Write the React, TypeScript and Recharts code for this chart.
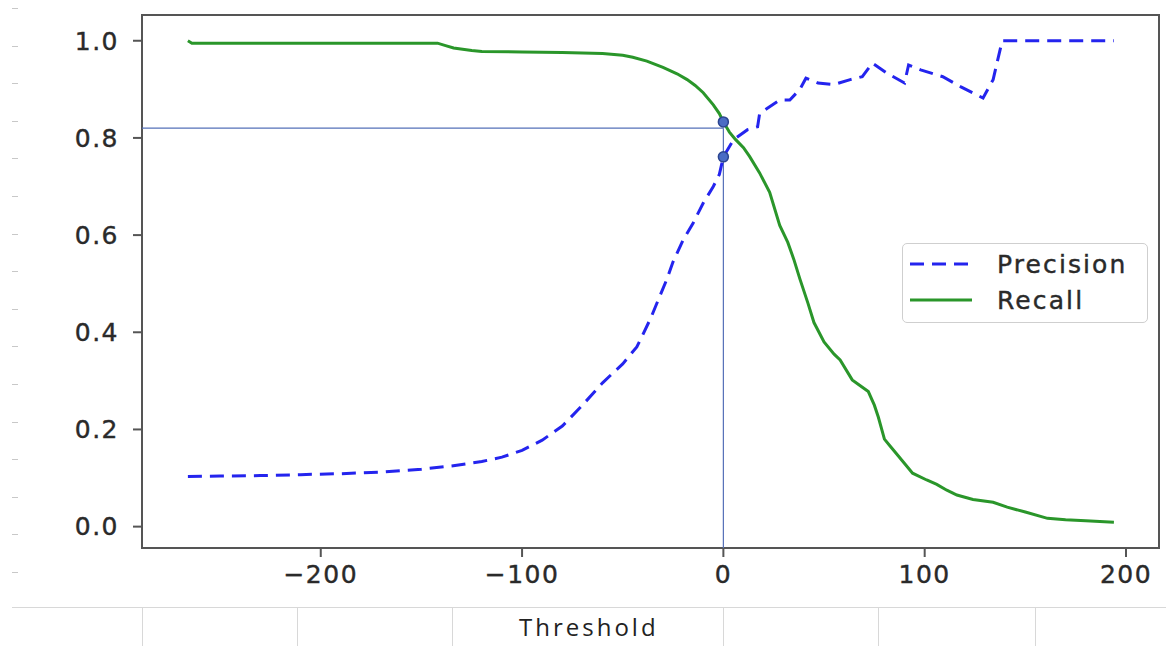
import { Line, LineChart, ReferenceArea, ReferenceDot, ReferenceLine, XAxis, YAxis } from 'recharts';

const precisionThresholds = [
  -266, -250, -230, -210, -190, -170, -150, -135, -120, -110, -100, -90, -80, -70, -60, -50, -43, -40, -36, -32,
  -28, -25, -20, -15, -10, -5, -2, 0, 5, 12, 17, 18, 25, 28, 33, 38, 41, 47, 55, 63, 69, 74, 81, 90, 92, 98, 109,
  118, 129, 134, 138.5, 150, 170, 194
];
const precisionValues = [
  0.103, 0.104, 0.105, 0.107, 0.109, 0.112, 0.118, 0.125, 0.134, 0.143, 0.157, 0.178, 0.207, 0.25, 0.296, 0.335,
  0.37, 0.395, 0.43, 0.47, 0.51, 0.545, 0.59, 0.625, 0.666, 0.7, 0.725, 0.761, 0.796, 0.817, 0.823, 0.85, 0.87,
  0.878, 0.878, 0.9, 0.923, 0.913, 0.91, 0.92, 0.926, 0.954, 0.934, 0.913, 0.95, 0.94, 0.926, 0.905, 0.882, 0.92,
  1.0, 1.0, 1.0, 1.0
];

const recallThresholds = [
  -266, -264, -200, -142, -138, -134, -125, -120, -100, -80, -60, -50, -45, -38, -30, -23, -18, -14, -10, -5, -2,
  0, 3, 6, 10, 13, 18, 23, 28, 32, 35, 38, 42, 45, 50, 55, 58, 64, 68, 72, 75, 77, 80, 83, 86, 90, 94, 101, 106,
  111, 116, 124, 134, 141, 150, 161, 170, 180, 194
];
const recallValues = [
  1.0, 0.995, 0.995, 0.995, 0.99, 0.985, 0.98, 0.978, 0.977, 0.976, 0.974, 0.97, 0.966, 0.958, 0.945, 0.932, 0.92,
  0.908, 0.893, 0.868, 0.85, 0.833, 0.812, 0.797, 0.78, 0.762, 0.728, 0.688, 0.62, 0.585, 0.55, 0.51, 0.46, 0.42,
  0.38, 0.355, 0.343, 0.302, 0.29, 0.278, 0.25, 0.225, 0.18, 0.165, 0.15, 0.13, 0.11, 0.096, 0.087, 0.075, 0.065,
  0.056, 0.05, 0.04, 0.03, 0.017, 0.014, 0.012, 0.009
];

const xTicks = [-200, -100, 0, 100, 200];
const yTicks = [0, 0.2, 0.4, 0.6, 0.8, 1.0];
const seriesNames = ['Precision', 'Recall'];

// operating point marked on the chart
const chosenThreshold = 0;
const chosenLevel = 0.82;
const markerValues = [0.833, 0.761];

const X_DOMAIN: [number, number] = [-288.8, 216.4];
const Y_DOMAIN: [number, number] = [-0.044, 1.053];

const BLUE = '#2424ee';
const GREEN = '#2a962a';
const GUIDE = '#5570b8';
const INK = '#2a2a2a';

// spreadsheet-ish leftovers around the screenshot
const sheetColumns = [142, 297, 452, 723, 878, 1035];
const sideMarks = Array.from({ length: 16 }, (_, i) => 8 + i * 37.6);

const formatX = (v: number) => (v < 0 ? `\u2212${Math.abs(v)}` : `${v}`);

const tickText = { fill: INK, fontSize: 25, stroke: INK, strokeWidth: 0.4 };

function LegendBox() {
  return (
    <div
      style={{
        position: 'absolute',
        left: 902,
        top: 243,
        width: 246,
        height: 80,
        border: '1px solid #cfcfcf',
        borderRadius: 5,
        background: '#fff',
        boxSizing: 'border-box',
        fontFamily: 'DejaVu Sans',
        fontSize: 25,
        letterSpacing: 2.1,
        color: INK,
        WebkitTextStroke: '0.4px #2a2a2a',
        paddingTop: 2
      }}
    >
      {seriesNames.map((name, i) => (
        <div key={name} style={{ display: 'flex', alignItems: 'center', height: 36 }}>
          <svg width={87} height={10} style={{ marginLeft: 7, flexShrink: 0 }}>
            <line
              x1={0}
              y1={5}
              x2={62}
              y2={5}
              stroke={i === 0 ? BLUE : GREEN}
              strokeWidth={3}
              strokeDasharray={i === 0 ? '14 8' : undefined}
            />
          </svg>
          <span>{name}</span>
        </div>
      ))}
    </div>
  );
}

export default function App() {
  const precisionRows = precisionThresholds.map((t, i) => ({ threshold: t, value: precisionValues[i] }));
  const recallRows = recallThresholds.map((t, i) => ({ threshold: t, value: recallValues[i] }));

  return (
    <div
      style={{
        position: 'absolute',
        left: 0,
        top: 0,
        width: 1166,
        height: 646,
        background: '#fff',
        overflow: 'hidden',
        fontFamily: 'DejaVu Sans',
        letterSpacing: 1.5
      }}
    >
      {sideMarks.map((y) => (
        <div key={y} style={{ position: 'absolute', left: 12, top: y, width: 6, height: 1, background: '#c8c8c8' }} />
      ))}

      <LineChart width={1166} height={600} margin={{ top: 15, right: 7, bottom: 0, left: 0 }}>
        <XAxis
          type="number"
          dataKey="threshold"
          domain={X_DOMAIN}
          ticks={xTicks}
          allowDataOverflow
          tickFormatter={formatX}
          height={52}
          tickSize={9}
          tickMargin={8}
          axisLine={false}
          tickLine={{ stroke: '#555', strokeWidth: 2 }}
          tick={tickText}
        />
        <YAxis
          type="number"
          domain={Y_DOMAIN}
          ticks={yTicks}
          allowDataOverflow
          tickFormatter={(v: number) => v.toFixed(1)}
          width={142}
          tickSize={9}
          tickMargin={14}
          axisLine={false}
          tickLine={{ stroke: '#555', strokeWidth: 2 }}
          tick={tickText}
        />
        <ReferenceArea
          x1={X_DOMAIN[0]}
          x2={X_DOMAIN[1]}
          y1={Y_DOMAIN[0]}
          y2={Y_DOMAIN[1]}
          fill="none"
          stroke="#555"
          strokeWidth={2}
        />
        <ReferenceLine
          segment={[
            { x: X_DOMAIN[0], y: chosenLevel },
            { x: chosenThreshold, y: chosenLevel }
          ]}
          stroke={GUIDE}
          strokeWidth={1.2}
        />
        <ReferenceLine
          segment={[
            { x: chosenThreshold, y: Y_DOMAIN[0] },
            { x: chosenThreshold, y: chosenLevel }
          ]}
          stroke={GUIDE}
          strokeWidth={1.2}
        />
        <Line
          data={precisionRows}
          dataKey="value"
          name={seriesNames[0]}
          type="linear"
          stroke={BLUE}
          strokeWidth={3}
          strokeDasharray="14 8"
          dot={false}
          isAnimationActive={false}
        />
        <Line
          data={recallRows}
          dataKey="value"
          name={seriesNames[1]}
          type="linear"
          stroke={GREEN}
          strokeWidth={3}
          dot={false}
          isAnimationActive={false}
        />
        {markerValues.map((v) => (
          <ReferenceDot key={v} x={chosenThreshold} y={v} r={5} fill="#4a6cc4" stroke="#2b4590" strokeWidth={1.5} />
        ))}
      </LineChart>

      <LegendBox />

      <div style={{ position: 'absolute', left: 12, top: 607, width: 1154, height: 1, background: '#d8d8d8' }} />
      {sheetColumns.map((x) => (
        <div key={x} style={{ position: 'absolute', left: x, top: 607, width: 1, height: 39, background: '#d8d8d8' }} />
      ))}
      <div
        style={{
          position: 'absolute',
          left: 519,
          top: 612,
          fontFamily: 'Open Sans',
          fontSize: 24,
          letterSpacing: 3,
          color: '#222',
          lineHeight: '30px'
        }}
      >
        Threshold
      </div>
    </div>
  );
}
